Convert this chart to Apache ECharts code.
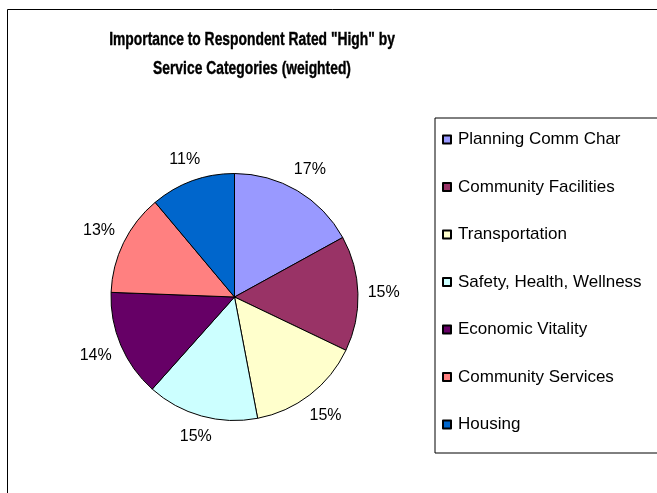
<!DOCTYPE html>
<html>
<head>
<meta charset="utf-8">
<script src="https://cdn.jsdelivr.net/npm/echarts@6/dist/echarts.min.js"></script>
<style>
html,body{margin:0;padding:0;background:#fff;}
#chart{width:657px;height:493px;}
</style>
</head>
<body>
<div id="chart"></div>
<script>
const categories = ["Planning Comm Char", "Community Facilities", "Transportation", "Safety, Health, Wellness", "Economic Vitality", "Community Services", "Housing"];
const values = [17.0, 15.1, 14.9, 14.6, 14.0, 13.3, 11.1];
const colors = ["#9999FF", "#993366", "#FFFFCC", "#CCFFFF", "#660066", "#FF8080", "#0066CC"];
const titleText = 'Importance to Respondent Rated "High" by\nService Categories (weighted)';

const FONT = '"Liberation Sans", Arial, sans-serif';
const cx = 234.5, cy = 297, R = 123.5;
const total = values.reduce((a, b) => a + b, 0);
const mids = [];
let acc = 0;
values.forEach(v => { mids.push((acc + v / 2) / total * 2 * Math.PI); acc += v; });

const chart = echarts.init(document.getElementById('chart'), null, {renderer: 'canvas'});
chart.setOption({
  backgroundColor: '#fff',
  animation: false,
  color: colors,
  graphic: [{
    type: 'rect', silent: true, z: -1,
    shape: {x: 7.5, y: 9.5, width: 700, height: 600},
    style: {fill: 'none', stroke: '#000', lineWidth: 1}
  }, {
    type: 'text', silent: true,
    x: 252, y: 26, scaleX: 0.77,
    style: {
      text: titleText, x: 0, y: 0,
      align: 'center', verticalAlign: 'top',
      fontFamily: FONT, fontWeight: 'bold', fontSize: 18, lineHeight: 29,
      fill: '#000', stroke: '#000', lineWidth: 0.4
    }
  }],
  legend: {
    orient: 'vertical',
    left: 435, top: 118,
    padding: [13, 40, 20, 7],
    itemGap: 30.5,
    itemWidth: 8, itemHeight: 8,
    icon: 'rect',
    borderColor: '#000', borderWidth: 1,
    textStyle: {fontFamily: FONT, fontSize: 17, color: '#000', lineHeight: 16, padding: [0, 0, 0, 2]},
    data: categories
  },
  series: [{
    type: 'pie',
    center: [cx, cy],
    radius: R,
    startAngle: 90,
    clockwise: true,
    avoidLabelOverlap: false,
    itemStyle: {borderColor: '#000', borderWidth: 1},
    label: {
      show: true, position: 'outside',
      fontFamily: FONT, fontSize: 16, color: '#000',
      formatter: p => Math.round(p.percent) + '%'
    },
    labelLine: {show: false, length: 12, length2: 0},
    labelLayout: function (p) {
      const a = mids[p.dataIndex];
      const s = Math.sin(a), c = Math.cos(a);
      const w = p.labelRect.width, h = p.labelRect.height;
      const d = R + 9.5 + (w / 2) * Math.abs(s) + (h / 2) * Math.abs(c);
      return {x: cx + d * s, y: cy - d * c, align: 'center', verticalAlign: 'middle'};
    },
    emphasis: {disabled: true},
    data: categories.map((n, i) => ({name: n, value: values[i]}))
  }]
});
</script>
</body>
</html>
